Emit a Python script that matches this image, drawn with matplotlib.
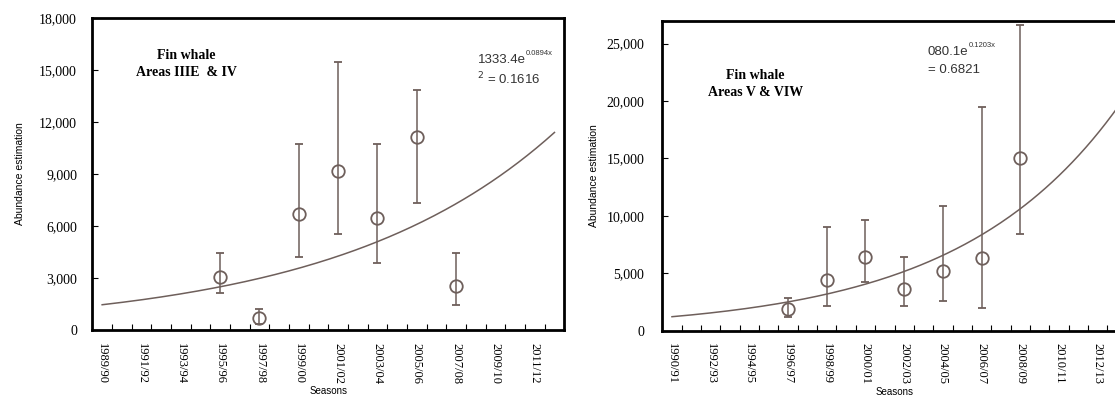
import numpy as np
import matplotlib
matplotlib.use("Agg")
import matplotlib.pyplot as plt
from matplotlib.ticker import MultipleLocator, FuncFormatter

# season axes (category axis, one slot per season)
seasons_l = ["{}/{:02d}".format(y, (y + 1) % 100) for y in range(1989, 2013)]
seasons_r = ["{}/{:02d}".format(y, (y + 1) % 100) for y in range(1990, 2014)]

# Fin whale, Areas IIIE & IV
surv_l = ["1995/96", "1997/98", "1999/00", "2001/02", "2003/04", "2005/06", "2007/08"]
est_l = [3040, 680, 6690, 9190, 6440, 11150, 2540]
lo_l = [2120, 320, 4200, 5540, 3850, 7310, 1440]
hi_l = [4430, 1200, 10730, 15460, 10730, 13820, 4460]
a_l, b_l = 1333.4, 0.0894

# Fin whale, Areas V & VIW
surv_r = ["1996/97", "1998/99", "2000/01", "2002/03", "2004/05", "2006/07", "2008/09"]
est_r = [1870, 4420, 6400, 3660, 5240, 6320, 15010]
lo_r = [1220, 2160, 4220, 2150, 2590, 2010, 8460]
hi_r = [2880, 9000, 9600, 6400, 10820, 19460, 26600]
a_r, b_r = 1080.1, 0.1203

col = "#6e5f5b"
serif = "Liberation Serif"
sans = "Liberation Sans"

fig = plt.figure(figsize=(11.15, 3.99), dpi=100)


def panel(rect, seasons, surv, est, lo, hi, a, b, ymax, ystep, title, eq, eqsup, r2, eqpos, ypad, lpad):
    ax = fig.add_axes(rect)
    n = len(seasons)
    xs = np.array([seasons.index(s) + 1 for s in surv])
    est = np.array(est)
    yerr = [est - np.array(lo), np.array(hi) - est]
    ax.errorbar(xs, est, yerr=yerr, fmt="o", ms=9, mfc="none", mec=col, mew=1.3,
                ecolor=col, elinewidth=1.1, capsize=2.6, capthick=1.1, zorder=3)
    xf = np.linspace(1, n, 200)
    ax.plot(xf, a * np.exp(b * xf), color=col, lw=1.1, zorder=2)

    ax.set_xlim(0.5, n + 0.5)
    ax.set_ylim(0, ymax)
    ax.set_xticks(np.arange(1, n + 1, 2))
    ax.set_xticklabels(seasons[::2], rotation=-90, fontfamily=serif, fontsize=9)
    ax.xaxis.set_minor_locator(MultipleLocator(1, offset=0.5))
    ax.tick_params(axis="x", which="major", length=0, pad=9)
    ax.tick_params(axis="x", which="minor", direction="in", length=4, width=0.8)
    ax.yaxis.set_major_locator(MultipleLocator(ystep))
    ax.yaxis.set_major_formatter(FuncFormatter(lambda v, p: "{:,.0f}".format(v)))
    ax.tick_params(axis="y", direction="in", length=4, width=0.8, pad=ypad)
    for t in ax.get_yticklabels():
        t.set_fontfamily(serif)
        t.set_fontsize(10)
    for s in ax.spines.values():
        s.set_linewidth(2.0)
        s.set_color("black")

    ax.set_ylabel("Abundance estimation", fontfamily=sans, fontsize=7.5, labelpad=lpad)
    ax.set_xlabel("Seasons", fontfamily=sans, fontsize=7, labelpad=2)

    ax.text(title[0], title[1], title[2], transform=ax.transAxes, ha="center", va="center",
            fontfamily=serif, fontweight="bold", fontsize=10, linespacing=1.4)

    # fitted exponential label, small raised exponent
    base = ax.text(eqpos[0], eqpos[1], eq, transform=ax.transAxes, ha="left", va="center",
                   fontfamily=sans, fontsize=9.5, color="#333333")
    ax.annotate(eqsup, xy=(1.0, 0.75), xycoords=base, ha="left", va="bottom",
                fontfamily=sans, fontsize=5.5, color="#333333")
    ax.text(eqpos[0], eqpos[1] - 0.06, r2, transform=ax.transAxes, ha="left", va="center",
            fontfamily=sans, fontsize=9.5, color="#333333")
    return ax


panel([0.0828, 0.1729, 0.4233, 0.782], seasons_l, surv_l, est_l, lo_l, hi_l, a_l, b_l,
      18000, 3000, (0.2, 0.852, "Fin whale\nAreas IIIE  & IV"),
      "1333.4e", "0.0894x", "$^2$ = 0.1616", (0.816, 0.865), 11, 10)

panel([0.594, 0.1712, 0.4165, 0.7769], seasons_r, surv_r, est_r, lo_r, hi_r, a_r, b_r,
      27000, 5000, (0.2, 0.795, "Fin whale\nAreas V & VIW"),
      "080.1e", "0.1203x", "= 0.6821", (0.572, 0.9), 13, 5)

fig.savefig("out.png", dpi=100, facecolor="white")
